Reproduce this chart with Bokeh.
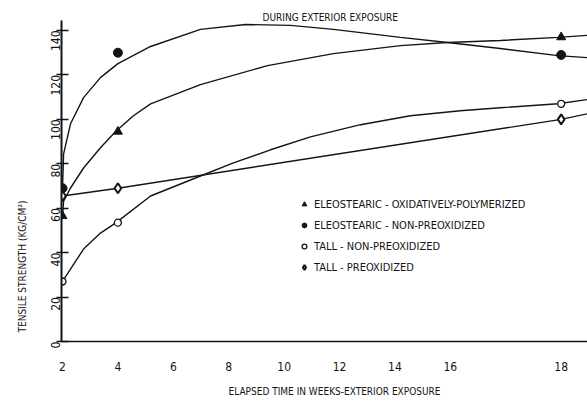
import math
import numpy as np
from bokeh.plotting import figure
from bokeh.models import Range1d, FixedTicker, Title, Legend, LegendItem
from bokeh.embed import file_html
from bokeh.resources import INLINE

FONT = "DejaVu Sans Condensed, Liberation Sans"
INK = "#141414"

# Tensile strength (kg/cm2) measured after 2, 4 and 18 weeks outdoors
weeks = [2, 4, 18]
eleo_oxpoly = [56.5, 94.5, 137]
eleo_nonpre = [69, 130, 129]
tall_nonpre = [27, 53.5, 107]
tall_preox = [65.5, 69, 100]

# Faired trend curves (week, strength) as drawn through the measurements
eleo_nonpre_curve_w = [2.0, 2.04, 2.29, 2.76, 3.37, 4.0, 5.18, 6.98, 8.61, 10.23, 11.78, 14.2, 15.9, 16.9, 17.94, 18.47]
eleo_nonpre_curve_v = [69.1, 84.5, 98.0, 109.8, 118.8, 125.1, 132.8, 140.5, 142.7, 142.3, 140.5, 136.9, 134.6, 131.9, 128.7, 127.8]

eleo_oxpoly_curve_w = [2.0, 2.04, 2.29, 2.76, 3.37, 3.91, 4.56, 5.18, 6.98, 9.4, 11.78, 14.2, 15.9, 16.9, 17.94, 18.47]
eleo_oxpoly_curve_v = [56.5, 63.2, 69.1, 78.1, 87.2, 94.4, 101.6, 107.0, 115.6, 124.2, 129.6, 133.2, 134.6, 135.5, 136.9, 137.8]

tall_nonpre_curve_w = [2.0, 2.76, 3.37, 3.91, 5.18, 6.98, 8.17, 9.51, 10.95, 12.76, 14.56, 16.18, 16.9, 17.94, 18.47]
tall_nonpre_curve_v = [27.1, 41.6, 48.8, 53.3, 65.5, 74.5, 80.4, 86.3, 92.1, 97.6, 101.6, 103.9, 105.2, 107.0, 108.9]

tall_preox_curve_w = [2.0, 4.0, 18.0, 18.47]
tall_preox_curve_v = [65.5, 69.0, 100.0, 102.5]

x_tick_weeks = [2, 4, 6, 8, 10, 12, 14, 16, 18]
y_ticks = [0, 20, 40, 60, 80, 100, 120, 140]

legend_labels = [
    "ELEOSTEARIC - OXIDATIVELY-POLYMERIZED",
    "ELEOSTEARIC - NON-PREOXIDIZED",
    "TALL - NON-PREOXIDIZED",
    "TALL - PREOXIDIZED",
]


def axis_pos(w):
    # the time axis draws its last two-week step at double length
    w = np.asarray(w, dtype=float)
    return np.where(w <= 16, w, 16 + 2 * (w - 16))


p = figure(
    width=587, height=407,
    x_range=Range1d(1.964, 20.95), y_range=Range1d(0, 144.5),
    output_backend="svg", toolbar_location=None,
    min_border_left=61, min_border_right=0, min_border_top=20, min_border_bottom=66,
)
p.outline_line_color = None
p.xgrid.visible = False
p.ygrid.visible = False
p.background_fill_color = "white"
p.border_fill_color = "white"

# header over the plotting area
p.title.text = "DURING EXTERIOR EXPOSURE"
p.title.align = "left"
p.title.offset = 201
p.title.standoff = -4
p.title.text_font = FONT
p.title.text_font_size = "10px"
p.title.text_font_style = "normal"
p.title.text_color = INK

# axes
xa = p.xaxis[0]
xa.ticker = FixedTicker(ticks=list(axis_pos(x_tick_weeks)))
xa.major_label_overrides = {float(axis_pos(w)): str(w) for w in x_tick_weeks}
xa.major_tick_in = 0
xa.major_tick_out = 0
xa.minor_tick_line_color = None
xa.axis_line_color = INK
xa.axis_line_width = 1.6
xa.major_label_standoff = 20
xa.major_label_text_font = FONT
xa.major_label_text_font_size = "12px"
xa.major_label_text_color = INK

ya = p.yaxis[0]
ya.ticker = FixedTicker(ticks=y_ticks)
ya.major_tick_in = 7
ya.major_tick_out = 5
ya.major_tick_line_color = INK
ya.major_tick_line_width = 1.4
ya.minor_tick_line_color = None
ya.axis_line_color = INK
ya.axis_line_width = 2
ya.major_label_orientation = math.pi / 2
ya.major_label_standoff = 1
ya.major_label_text_font = FONT
ya.major_label_text_font_size = "12px"
ya.major_label_text_color = INK

# axis titles
p.add_layout(Title(text="ELAPSED TIME IN WEEKS-EXTERIOR EXPOSURE", align="left",
                   offset=167, standoff=21, text_font=FONT, text_font_size="10px",
                   text_font_style="normal", text_color=INK), "below")
p.add_layout(Title(text="TENSILE STRENGTH (KG/CM²)", align="left", vertical_align="top",
                   offset=9, standoff=28, text_font=FONT, text_font_size="10px",
                   text_font_style="normal", text_color=INK), "left")

# trend curves
for cw, cv in [
    (eleo_nonpre_curve_w, eleo_nonpre_curve_v),
    (eleo_oxpoly_curve_w, eleo_oxpoly_curve_v),
    (tall_nonpre_curve_w, tall_nonpre_curve_v),
    (tall_preox_curve_w, tall_preox_curve_v),
]:
    p.line(axis_pos(cw), cv, line_color=INK, line_width=1.4)

xs = axis_pos(weeks)
r_tri = p.scatter(xs, eleo_oxpoly, marker="triangle", size=9,
                  fill_color=INK, line_color=INK)
r_dot = p.scatter(xs, eleo_nonpre, marker="circle", size=9,
                  fill_color=INK, line_color=INK)
r_open = p.scatter(xs, tall_nonpre, marker="circle", size=7,
                   fill_color="white", line_color=INK, line_width=1.3)
r_dia = p.scatter(xs, tall_preox, marker="diamond", size=10,
                  fill_color="white", line_color=INK, line_width=2)

legend = Legend(
    items=[LegendItem(label=t, renderers=[r]) for t, r in
           zip(legend_labels, [r_tri, r_dot, r_open, r_dia])],
    location=(237, 64),
    orientation="vertical",
    border_line_color=None,
    background_fill_alpha=0,
    padding=0, margin=0, spacing=1,
    glyph_width=12, glyph_height=20, label_height=20,
    label_standoff=4,
    label_text_font=FONT, label_text_font_size="11px", label_text_color=INK,
)
p.add_layout(legend, "center")

open("out.html", "w").write(file_html(p, INLINE))
